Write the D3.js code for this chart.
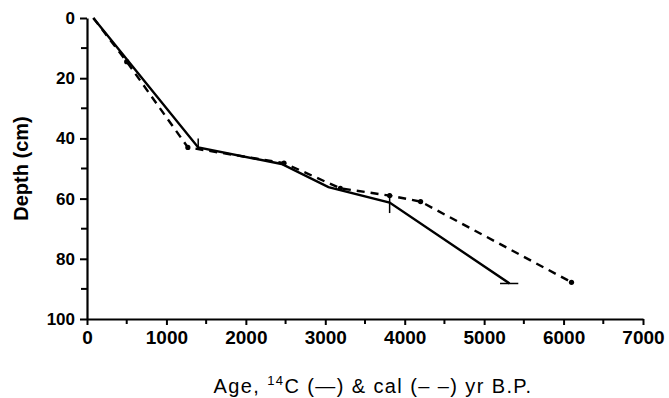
<!DOCTYPE html>
<html>
<head>
<meta charset="utf-8">
<script src="https://cdn.jsdelivr.net/npm/d3@7"></script>
<style>
  body { margin: 0; background: #fff; }
  text { font-family: "Liberation Sans", Arial, sans-serif; fill: #000; }
</style>
</head>
<body>
<div id="chart"></div>
<script>
// radiocarbon ages (solid line)
const c14Age = [80, 1400, 2450, 3040, 3810, 5320];
const c14Depth = [0, 43, 48.5, 56.2, 61.3, 88.2];
// error bars on the 14C dates: [ageMinus, agePlus, depthMinus, depthPlus]
const c14Err = [
  null,
  [0, 0, 3, 0],
  null,
  null,
  [0, 0, 3, 3.5],
  [120, 110, 0, 0]
];
// calibrated ages (dashed line)
const calAge = [80, 500, 1270, 2480, 3190, 3810, 4200, 6100];
const calDepth = [0, 14.5, 43, 48.2, 56.6, 59, 61, 87.8];

const xTicks = [0, 1000, 2000, 3000, 4000, 5000, 6000, 7000];
const yTicks = [0, 20, 40, 60, 80, 100];

const width = 669, height = 398;
const margin = { top: 18, right: 26, bottom: 79, left: 87 };

const svg = d3.select("#chart")
  .append("svg")
  .attr("width", width)
  .attr("height", height);

const x = d3.scaleLinear().domain([0, 7000]).range([margin.left, width - margin.right]);
const y = d3.scaleLinear().domain([0, 100]).range([margin.top, height - margin.bottom]);

// x axis
const xAxis = svg.append("g")
  .attr("transform", `translate(0, ${y(100)})`)
  .call(d3.axisBottom(x).tickValues(xTicks).tickFormat(d3.format("d"))
    .tickSize(6).tickPadding(6).tickSizeOuter(0));
xAxis.append("g").selectAll("line")
  .data(d3.range(500, 7000, 1000))
  .join("line")
  .attr("x1", d => x(d)).attr("x2", d => x(d))
  .attr("y1", 0).attr("y2", 5)
  .attr("stroke", "#000").attr("stroke-width", 2);

// y axis
const yAxis = svg.append("g")
  .attr("transform", `translate(${x(0)}, 0)`)
  .call(d3.axisLeft(y).tickValues(yTicks).tickSize(7).tickPadding(5).tickSizeOuter(0));
yAxis.append("g").selectAll("line")
  .data(d3.range(10, 100, 20))
  .join("line")
  .attr("x1", 0).attr("x2", -6)
  .attr("y1", d => y(d)).attr("y2", d => y(d))
  .attr("stroke", "#000").attr("stroke-width", 2);

[xAxis, yAxis].forEach(a => {
  a.select(".domain").attr("stroke", "#000").attr("stroke-width", 2.2);
  a.selectAll(".tick line").attr("stroke", "#000").attr("stroke-width", 2);
  a.selectAll(".tick text")
    .attr("font-weight", "bold")
    .attr("font-family", "'Liberation Sans', Arial, sans-serif")
    .attr("fill", "#000");
});
xAxis.selectAll(".tick text").attr("font-size", 19);
yAxis.selectAll(".tick text").attr("font-size", 17);

// axis titles
svg.append("text")
  .attr("transform", `translate(28, ${(y(0) + y(100)) / 2}) rotate(-90)`)
  .attr("text-anchor", "middle")
  .attr("font-size", 20)
  .attr("font-weight", "bold")
  .text("Depth (cm)");

const xt = svg.append("text")
  .attr("x", (x(0) + x(7000)) / 2 + 8)
  .attr("y", 393)
  .attr("text-anchor", "middle")
  .attr("font-size", 20)
  .attr("letter-spacing", 1.4);
xt.append("tspan").text("Age, ");
xt.append("tspan").attr("font-size", 13).attr("dy", -8).text("14");
xt.append("tspan").attr("dy", 8).text("C (\u2014) & cal (\u2013 \u2013) yr B.P.");

const line = d3.line().x(d => x(d[0])).y(d => y(d[1]));

// calibrated, dashed
const calPts = calAge.map((a, i) => [a, calDepth[i]]);
svg.append("path")
  .datum(calPts)
  .attr("d", line)
  .attr("fill", "none")
  .attr("stroke", "#000")
  .attr("stroke-width", 2.4)
  .attr("stroke-dasharray", "8,6");
svg.append("g").selectAll("circle")
  .data(calPts.slice(1))
  .join("circle")
  .attr("cx", d => x(d[0]))
  .attr("cy", d => y(d[1]))
  .attr("r", 2.6)
  .attr("fill", "#000");

// 14C, solid
const c14Pts = c14Age.map((a, i) => [a, c14Depth[i]]);
svg.append("path")
  .datum(c14Pts)
  .attr("d", line)
  .attr("fill", "none")
  .attr("stroke", "#000")
  .attr("stroke-width", 2.4);

const eb = svg.append("g").attr("stroke", "#000").attr("stroke-width", 1.5);
c14Pts.forEach((p, i) => {
  const e = c14Err[i];
  if (!e) return;
  if (e[0] || e[1]) {
    eb.append("line")
      .attr("x1", x(p[0] - e[0])).attr("x2", x(p[0] + e[1]))
      .attr("y1", y(p[1])).attr("y2", y(p[1]));
  }
  if (e[2] || e[3]) {
    eb.append("line")
      .attr("x1", x(p[0])).attr("x2", x(p[0]))
      .attr("y1", y(p[1] - e[2])).attr("y2", y(p[1] + e[3]));
  }
});
</script>
</body>
</html>
